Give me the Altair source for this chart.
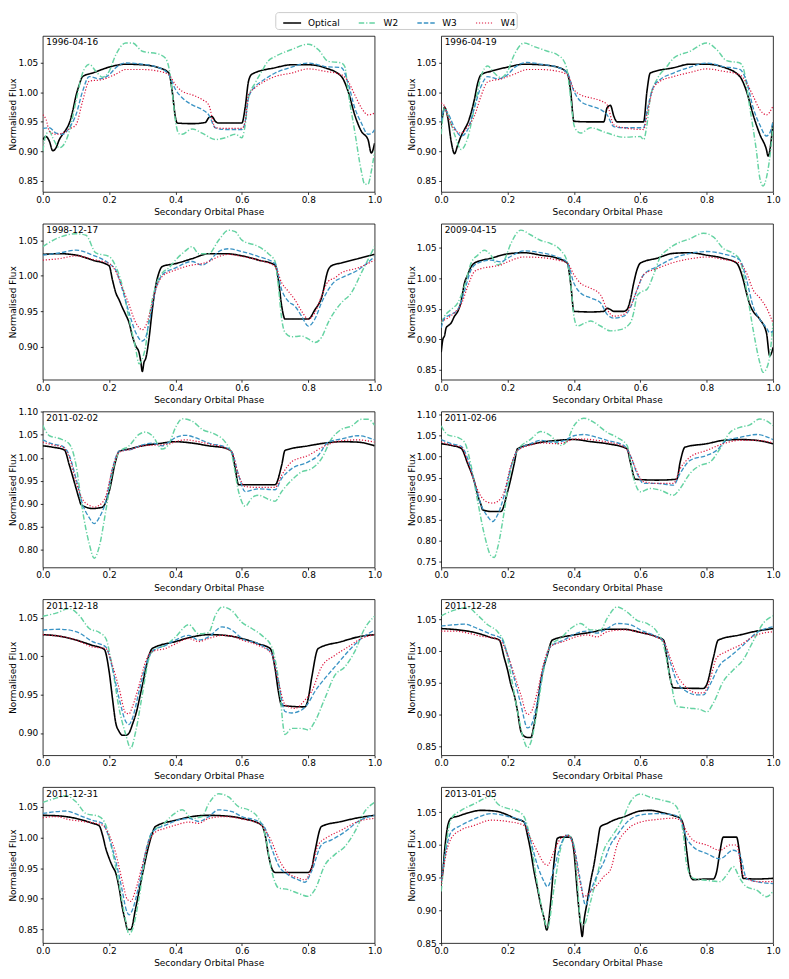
import altair as alt
import pandas as pd

FONT = "DejaVu Sans"
SERIES = ["Optical", "W2", "W3", "W4"]
COLORS = ["#000000", "#66d3a3", "#3a93c4", "#dc143c"]
DASHES = [[1, 0], [5.5, 2, 1.2, 2], [4.5, 2], [1.2, 1.8]]
WIDTHS = [1.6, 1.2, 1.2, 1.3]
X_TICKS = [0.0, 0.2, 0.4, 0.6, 0.8, 1.0]

DATES = ["1996-04-16", "1996-04-19", "1998-12-17", "2009-04-15", "2011-02-02",
         "2011-02-06", "2011-12-18", "2011-12-28", "2011-12-31", "2013-01-05"]

Y_DOMAINS = [[0.831, 1.096], [0.831, 1.096], [0.8535, 1.0732], [0.834, 1.0895],
             [0.760, 1.101], [0.735, 1.108], [0.871, 1.074], [0.836, 1.081],
             [0.828, 1.082], [0.850, 1.0886]]
Y_TICKS = [[0.85, 0.90, 0.95, 1.00, 1.05], [0.85, 0.90, 0.95, 1.00, 1.05],
           [0.90, 0.95, 1.00, 1.05], [0.85, 0.90, 0.95, 1.00, 1.05],
           [0.80, 0.85, 0.90, 0.95, 1.00, 1.05, 1.10],
           [0.75, 0.80, 0.85, 0.90, 0.95, 1.00, 1.05, 1.10],
           [0.90, 0.95, 1.00, 1.05], [0.85, 0.90, 0.95, 1.00, 1.05],
           [0.85, 0.90, 0.95, 1.00, 1.05], [0.85, 0.90, 0.95, 1.00, 1.05]]

# ---- 1996-04-16 ----
OPT_1 = [(0,0.920),(0.01,0.925),(0.02,0.917),(0.03,0.901),(0.04,0.906),(0.05,0.920),(0.06,0.929),(0.07,0.937),(0.08,0.948),(0.09,0.968),(0.10,0.994),(0.11,1.013),(0.12,1.027),(0.15,1.033),(0.20,1.043),(0.25,1.048),(0.30,1.047),(0.35,1.042),(0.38,1.033),(0.39,1.002),(0.40,0.957),(0.405,0.948),(0.45,0.947),(0.49,0.949),(0.50,0.957),(0.51,0.959),(0.52,0.951),(0.53,0.948),(0.60,0.948),(0.61,0.975),(0.62,1.019),(0.63,1.031),(0.70,1.042),(0.75,1.047),(0.80,1.047),(0.85,1.042),(0.90,1.027),(0.92,1.002),(0.94,0.962),(0.96,0.934),(0.98,0.920),(0.99,0.897),(1.0,0.914)]
W2_1 = [(0,0.900),(0.01,0.929),(0.02,0.934),(0.03,0.923),(0.05,0.906),(0.06,0.909),(0.08,0.934),(0.10,0.985),(0.12,1.033),(0.14,1.048),(0.16,1.036),(0.18,1.026),(0.20,1.036),(0.22,1.064),(0.25,1.084),(0.27,1.084),(0.30,1.070),(0.35,1.065),(0.37,1.058),(0.38,1.042),(0.39,1.002),(0.40,0.951),(0.41,0.930),(0.42,0.929),(0.45,0.938),(0.48,0.931),(0.52,0.920),(0.55,0.923),(0.58,0.929),(0.60,0.923),(0.61,0.945),(0.62,0.991),(0.64,1.016),(0.66,1.036),(0.68,1.054),(0.70,1.061),(0.75,1.073),(0.80,1.082),(0.83,1.073),(0.86,1.053),(0.90,1.050),(0.91,1.044),(0.92,1.002),(0.94,0.934),(0.96,0.866),(0.97,0.844),(0.98,0.844),(0.99,0.866),(1.0,0.900)]
W3_1 = [(0,0.939),(0.02,0.940),(0.04,0.931),(0.06,0.929),(0.08,0.940),(0.10,0.962),(0.12,1.002),(0.14,1.027),(0.17,1.023),(0.20,1.030),(0.22,1.042),(0.25,1.050),(0.30,1.048),(0.35,1.042),(0.38,1.030),(0.40,1.005),(0.42,0.991),(0.45,0.979),(0.48,0.971),(0.50,0.962),(0.52,0.940),(0.55,0.937),(0.60,0.937),(0.61,0.951),(0.62,0.991),(0.64,1.010),(0.66,1.019),(0.70,1.033),(0.75,1.043),(0.80,1.050),(0.85,1.044),(0.90,1.042),(0.92,1.016),(0.94,0.974),(0.96,0.948),(0.98,0.929),(0.99,0.930),(1.0,0.937)]
W4_1 = [(0,0.962),(0.01,0.954),(0.02,0.934),(0.04,0.929),(0.06,0.931),(0.08,0.938),(0.10,0.945),(0.12,0.985),(0.14,1.019),(0.18,1.022),(0.22,1.031),(0.25,1.039),(0.30,1.039),(0.35,1.036),(0.38,1.030),(0.40,1.013),(0.42,1.002),(0.45,0.996),(0.48,0.988),(0.50,0.979),(0.52,0.940),(0.55,0.939),(0.60,0.939),(0.61,0.951),(0.62,0.996),(0.64,1.008),(0.66,1.016),(0.70,1.027),(0.75,1.033),(0.80,1.040),(0.85,1.036),(0.90,1.030),(0.92,1.019),(0.94,0.996),(0.96,0.974),(0.98,0.962),(1.0,0.965)]

# ---- 1996-04-19 ----
OPT_2 = [(0,0.945),(0.005,0.962),(0.01,0.975),(0.02,0.957),(0.03,0.917),(0.04,0.896),(0.05,0.911),(0.06,0.926),(0.07,0.937),(0.08,0.948),(0.09,0.965),(0.10,0.988),(0.11,1.016),(0.12,1.030),(0.15,1.036),(0.20,1.043),(0.25,1.048),(0.30,1.047),(0.35,1.043),(0.38,1.033),(0.39,1.002),(0.40,0.951),(0.45,0.950),(0.49,0.950),(0.50,0.974),(0.51,0.978),(0.52,0.960),(0.53,0.950),(0.61,0.950),(0.62,1.002),(0.63,1.033),(0.70,1.042),(0.75,1.048),(0.80,1.048),(0.85,1.043),(0.90,1.027),(0.92,1.002),(0.94,0.962),(0.96,0.929),(0.98,0.903),(0.985,0.892),(1.0,0.949)]
W2_2 = [(0,0.929),(0.01,0.974),(0.02,0.962),(0.04,0.929),(0.06,0.903),(0.08,0.923),(0.10,0.974),(0.12,1.027),(0.14,1.045),(0.16,1.033),(0.18,1.025),(0.20,1.036),(0.22,1.064),(0.25,1.084),(0.28,1.078),(0.32,1.070),(0.35,1.064),(0.37,1.053),(0.38,1.036),(0.39,0.991),(0.40,0.945),(0.41,0.934),(0.42,0.931),(0.45,0.940),(0.50,0.931),(0.55,0.924),(0.60,0.925),(0.61,0.920),(0.62,0.945),(0.63,0.991),(0.65,1.022),(0.68,1.044),(0.70,1.058),(0.75,1.070),(0.80,1.084),(0.83,1.073),(0.86,1.054),(0.90,1.050),(0.91,1.042),(0.93,0.974),(0.95,0.900),(0.96,0.855),(0.97,0.841),(0.98,0.855),(0.99,0.889),(1.0,0.945)]
W3_2 = [(0,0.951),(0.01,0.971),(0.02,0.965),(0.04,0.940),(0.06,0.926),(0.08,0.937),(0.10,0.974),(0.12,1.010),(0.14,1.027),(0.17,1.023),(0.20,1.030),(0.22,1.042),(0.26,1.051),(0.30,1.048),(0.35,1.043),(0.38,1.033),(0.40,1.002),(0.42,0.985),(0.45,0.977),(0.48,0.971),(0.50,0.962),(0.52,0.942),(0.55,0.940),(0.61,0.940),(0.62,0.968),(0.64,1.010),(0.66,1.022),(0.70,1.033),(0.75,1.043),(0.80,1.050),(0.85,1.044),(0.90,1.039),(0.92,1.019),(0.94,0.974),(0.96,0.945),(0.98,0.926),(0.99,0.931),(1.0,0.951)]
W4_2 = [(0,0.982),(0.01,0.977),(0.02,0.960),(0.04,0.937),(0.06,0.931),(0.08,0.942),(0.10,0.960),(0.12,0.994),(0.14,1.018),(0.18,1.023),(0.22,1.031),(0.26,1.039),(0.30,1.039),(0.35,1.036),(0.38,1.030),(0.40,1.005),(0.42,0.996),(0.45,0.991),(0.48,0.986),(0.50,0.979),(0.52,0.945),(0.55,0.940),(0.61,0.937),(0.62,0.962),(0.64,1.008),(0.66,1.019),(0.70,1.027),(0.75,1.034),(0.80,1.040),(0.85,1.036),(0.90,1.030),(0.92,1.016),(0.94,0.994),(0.96,0.971),(0.98,0.962),(1.0,0.977)]

# ---- 1998-12-17 ----
OPT_3 = [(0,1.030),(0.05,1.031),(0.10,1.029),(0.15,1.022),(0.20,1.014),(0.21,0.994),(0.22,0.976),(0.23,0.966),(0.24,0.955),(0.25,0.945),(0.26,0.934),(0.27,0.915),(0.28,0.901),(0.29,0.892),(0.295,0.880),(0.30,0.865),(0.305,0.878),(0.31,0.883),(0.32,0.911),(0.33,0.952),(0.34,0.985),(0.35,1.004),(0.36,1.013),(0.40,1.017),(0.45,1.024),(0.50,1.031),(0.55,1.031),(0.60,1.028),(0.65,1.022),(0.70,1.015),(0.71,0.994),(0.72,0.957),(0.73,0.939),(0.80,0.939),(0.82,0.952),(0.84,0.969),(0.86,1.008),(0.87,1.014),(0.90,1.018),(0.95,1.024),(1.0,1.030)]
W2_3 = [(0,1.041),(0.05,1.054),(0.10,1.059),(0.13,1.057),(0.16,1.032),(0.20,1.027),(0.22,1.013),(0.24,0.985),(0.26,0.939),(0.28,0.897),(0.29,0.876),(0.30,0.883),(0.31,0.901),(0.32,0.939),(0.34,0.985),(0.36,1.004),(0.38,1.011),(0.40,1.022),(0.43,1.035),(0.45,1.041),(0.47,1.031),(0.50,1.031),(0.53,1.050),(0.56,1.064),(0.58,1.062),(0.60,1.050),(0.65,1.041),(0.68,1.031),(0.70,1.020),(0.71,0.985),(0.72,0.939),(0.73,0.920),(0.75,0.914),(0.78,0.915),(0.80,0.911),(0.82,0.906),(0.84,0.913),(0.86,0.934),(0.88,0.950),(0.90,0.962),(0.93,0.976),(0.96,1.004),(1.0,1.041)]
W3_3 = [(0,1.029),(0.05,1.032),(0.10,1.036),(0.15,1.029),(0.20,1.017),(0.22,1.008),(0.24,0.980),(0.26,0.948),(0.28,0.920),(0.30,0.908),(0.31,0.913),(0.32,0.934),(0.34,0.980),(0.36,1.001),(0.40,1.011),(0.45,1.020),(0.48,1.015),(0.50,1.020),(0.53,1.034),(0.56,1.038),(0.60,1.034),(0.65,1.027),(0.70,1.017),(0.72,0.980),(0.74,0.964),(0.76,0.957),(0.78,0.943),(0.80,0.929),(0.82,0.939),(0.84,0.962),(0.86,0.980),(0.88,0.992),(0.90,0.997),(0.95,1.008),(1.0,1.027)]
W4_3 = [(0,1.022),(0.05,1.024),(0.10,1.028),(0.15,1.023),(0.20,1.017),(0.22,1.006),(0.24,0.983),(0.26,0.959),(0.28,0.934),(0.30,0.924),(0.31,0.929),(0.32,0.943),(0.34,0.980),(0.36,0.999),(0.40,1.008),(0.45,1.015),(0.48,1.017),(0.50,1.020),(0.53,1.027),(0.56,1.030),(0.60,1.027),(0.65,1.022),(0.70,1.013),(0.72,0.990),(0.74,0.978),(0.76,0.966),(0.78,0.950),(0.80,0.939),(0.82,0.948),(0.84,0.971),(0.86,0.992),(0.88,0.997),(0.90,1.004),(0.95,1.011),(1.0,1.022)]

# ---- 2009-04-15 ----
OPT_4 = [(0,0.879),(0.005,0.900),(0.01,0.906),(0.015,0.919),(0.02,0.922),(0.03,0.927),(0.04,0.938),(0.05,0.946),(0.06,0.962),(0.07,0.992),(0.08,1.006),(0.09,1.019),(0.10,1.025),(0.15,1.033),(0.20,1.040),(0.25,1.042),(0.30,1.038),(0.35,1.033),(0.38,1.025),(0.39,0.992),(0.40,0.946),(0.45,0.945),(0.49,0.946),(0.50,0.951),(0.51,0.949),(0.52,0.946),(0.55,0.946),(0.56,0.949),(0.57,0.965),(0.58,0.992),(0.59,1.014),(0.60,1.025),(0.65,1.033),(0.70,1.041),(0.75,1.042),(0.80,1.038),(0.85,1.033),(0.89,1.025),(0.91,0.998),(0.92,0.976),(0.93,0.957),(0.94,0.946),(0.96,0.933),(0.98,0.911),(0.99,0.873),(1.0,0.887)]
W2_4 = [(0,0.927),(0.01,0.938),(0.03,0.949),(0.05,0.960),(0.07,0.987),(0.09,1.025),(0.11,1.038),(0.13,1.046),(0.15,1.038),(0.17,1.022),(0.19,1.030),(0.21,1.057),(0.24,1.079),(0.27,1.071),(0.30,1.062),(0.33,1.057),(0.36,1.046),(0.38,1.027),(0.39,0.992),(0.40,0.938),(0.41,0.922),(0.43,0.926),(0.45,0.930),(0.48,0.922),(0.51,0.914),(0.54,0.916),(0.57,0.927),(0.58,0.944),(0.59,0.971),(0.60,0.977),(0.62,0.982),(0.64,1.006),(0.66,1.035),(0.68,1.046),(0.70,1.054),(0.75,1.065),(0.79,1.074),(0.82,1.068),(0.85,1.049),(0.88,1.041),(0.90,1.030),(0.92,0.981),(0.94,0.916),(0.96,0.862),(0.97,0.846),(0.98,0.852),(0.99,0.873),(1.0,0.927)]
W3_4 = [(0,0.919),(0.01,0.935),(0.03,0.941),(0.05,0.949),(0.07,0.979),(0.09,1.014),(0.11,1.025),(0.15,1.030),(0.18,1.027),(0.20,1.033),(0.25,1.045),(0.30,1.042),(0.35,1.035),(0.38,1.026),(0.40,0.992),(0.42,0.976),(0.45,0.968),(0.48,0.960),(0.50,0.941),(0.52,0.935),(0.55,0.938),(0.57,0.952),(0.59,0.981),(0.61,1.006),(0.65,1.019),(0.70,1.033),(0.75,1.041),(0.80,1.044),(0.85,1.040),(0.90,1.030),(0.92,0.998),(0.94,0.954),(0.96,0.933),(0.98,0.919),(0.99,0.911),(1.0,0.914)]
W4_4 = [(0,0.930),(0.02,0.935),(0.04,0.944),(0.06,0.957),(0.08,0.987),(0.10,1.011),(0.12,1.016),(0.15,1.019),(0.18,1.022),(0.20,1.027),(0.25,1.035),(0.30,1.034),(0.35,1.030),(0.38,1.025),(0.40,1.006),(0.42,0.992),(0.45,0.984),(0.48,0.973),(0.50,0.949),(0.52,0.938),(0.55,0.941),(0.57,0.954),(0.59,0.981),(0.61,1.006),(0.65,1.016),(0.70,1.026),(0.75,1.032),(0.80,1.035),(0.85,1.031),(0.90,1.025),(0.92,1.009),(0.94,0.981),(0.96,0.968),(0.98,0.952),(1.0,0.927)]

# ---- 2011-02-02 ----
OPT_5 = [(0,1.026),(0.03,1.023),(0.065,1.017),(0.08,0.984),(0.10,0.934),(0.11,0.909),(0.115,0.898),(0.13,0.892),(0.15,0.889),(0.18,0.892),(0.20,0.926),(0.22,0.994),(0.23,1.014),(0.26,1.019),(0.30,1.026),(0.35,1.031),(0.40,1.035),(0.45,1.032),(0.50,1.026),(0.55,1.021),(0.57,1.012),(0.58,0.976),(0.59,0.941),(0.65,0.941),(0.70,0.941),(0.72,0.984),(0.73,1.016),(0.80,1.026),(0.85,1.032),(0.90,1.035),(0.95,1.034),(1.0,1.026)]
W2_5 = [(0,1.071),(0.02,1.048),(0.05,1.042),(0.08,1.030),(0.10,0.985),(0.12,0.884),(0.14,0.812),(0.155,0.780),(0.17,0.805),(0.19,0.884),(0.21,0.969),(0.23,1.012),(0.26,1.026),(0.29,1.051),(0.31,1.056),(0.33,1.048),(0.36,1.019),(0.38,1.030),(0.40,1.066),(0.42,1.085),(0.45,1.080),(0.48,1.062),(0.52,1.051),(0.55,1.034),(0.57,1.005),(0.59,0.926),(0.61,0.894),(0.63,0.912),(0.65,0.918),(0.68,0.909),(0.70,0.905),(0.72,0.926),(0.75,0.951),(0.78,0.969),(0.81,0.976),(0.84,0.998),(0.87,1.041),(0.90,1.062),(0.93,1.069),(0.96,1.084),(0.98,1.084),(1.0,1.071)]
W3_5 = [(0,1.039),(0.03,1.030),(0.06,1.025),(0.08,1.005),(0.10,0.955),(0.12,0.898),(0.14,0.869),(0.155,0.856),(0.17,0.869),(0.19,0.905),(0.21,0.976),(0.23,1.014),(0.27,1.019),(0.30,1.028),(0.33,1.032),(0.36,1.026),(0.38,1.034),(0.40,1.044),(0.43,1.049),(0.47,1.041),(0.50,1.032),(0.55,1.023),(0.57,1.012),(0.59,0.962),(0.61,0.926),(0.65,0.932),(0.70,0.930),(0.72,0.955),(0.75,0.976),(0.80,0.991),(0.83,1.005),(0.86,1.034),(0.90,1.041),(0.95,1.048),(1.0,1.039)]
W4_5 = [(0,1.034),(0.03,1.028),(0.06,1.023),(0.08,1.001),(0.10,0.948),(0.12,0.909),(0.14,0.896),(0.155,0.892),(0.17,0.896),(0.19,0.916),(0.21,0.976),(0.23,1.012),(0.27,1.019),(0.30,1.026),(0.35,1.028),(0.38,1.030),(0.40,1.035),(0.43,1.039),(0.47,1.035),(0.50,1.030),(0.55,1.021),(0.57,1.012),(0.59,0.962),(0.61,0.937),(0.65,0.935),(0.70,0.935),(0.72,0.962),(0.75,0.991),(0.80,1.005),(0.85,1.026),(0.90,1.037),(0.95,1.039),(1.0,1.034)]

# ---- 2011-02-06 ----
OPT_6 = [(0,1.031),(0.03,1.027),(0.06,1.020),(0.08,0.983),(0.10,0.940),(0.11,0.908),(0.12,0.885),(0.125,0.873),(0.15,0.869),(0.18,0.869),(0.20,0.916),(0.22,0.983),(0.23,1.019),(0.28,1.031),(0.35,1.039),(0.40,1.041),(0.45,1.036),(0.50,1.031),(0.56,1.019),(0.57,0.987),(0.585,0.946),(0.65,0.944),(0.71,0.946),(0.72,0.987),(0.735,1.023),(0.80,1.031),(0.85,1.039),(0.90,1.041),(0.95,1.039),(1.0,1.031)]
W2_6 = [(0,1.074),(0.02,1.052),(0.05,1.046),(0.07,1.035),(0.09,0.979),(0.11,0.893),(0.13,0.814),(0.15,0.763),(0.16,0.759),(0.17,0.782),(0.19,0.869),(0.21,0.972),(0.23,1.015),(0.27,1.042),(0.30,1.060),(0.33,1.050),(0.36,1.027),(0.38,1.039),(0.40,1.074),(0.43,1.092),(0.46,1.082),(0.50,1.058),(0.53,1.046),(0.56,1.027),(0.58,0.948),(0.60,0.916),(0.63,0.924),(0.66,0.920),(0.70,0.908),(0.72,0.924),(0.75,0.960),(0.78,0.979),(0.81,0.987),(0.84,1.019),(0.87,1.058),(0.90,1.070),(0.93,1.076),(0.96,1.090),(0.98,1.086),(1.0,1.074)]
W3_6 = [(0,1.041),(0.03,1.031),(0.06,1.025),(0.08,0.995),(0.10,0.940),(0.12,0.885),(0.14,0.857),(0.155,0.845),(0.17,0.861),(0.19,0.908),(0.21,0.975),(0.23,1.015),(0.27,1.031),(0.30,1.039),(0.33,1.035),(0.36,1.036),(0.38,1.042),(0.40,1.050),(0.43,1.053),(0.47,1.046),(0.50,1.039),(0.55,1.027),(0.57,1.003),(0.59,0.960),(0.61,0.936),(0.65,0.936),(0.70,0.932),(0.72,0.960),(0.75,0.991),(0.80,1.003),(0.83,1.015),(0.86,1.039),(0.90,1.046),(0.95,1.053),(1.0,1.041)]
W4_6 = [(0,1.035),(0.03,1.028),(0.06,1.023),(0.08,0.987),(0.10,0.940),(0.12,0.905),(0.14,0.891),(0.155,0.889),(0.17,0.893),(0.19,0.916),(0.21,0.979),(0.23,1.015),(0.27,1.028),(0.30,1.033),(0.35,1.031),(0.38,1.036),(0.40,1.042),(0.43,1.042),(0.47,1.039),(0.50,1.035),(0.55,1.024),(0.57,1.003),(0.59,0.964),(0.61,0.940),(0.65,0.936),(0.70,0.936),(0.72,0.971),(0.75,0.999),(0.80,1.015),(0.85,1.031),(0.90,1.039),(0.95,1.039),(1.0,1.033)]

# ---- 2011-12-18 ----
OPT_7 = [(0,1.028),(0.05,1.026),(0.10,1.021),(0.15,1.014),(0.185,1.009),(0.20,0.980),(0.21,0.945),(0.22,0.913),(0.23,0.902),(0.24,0.897),(0.25,0.897),(0.26,0.900),(0.27,0.911),(0.28,0.924),(0.30,0.962),(0.32,1.001),(0.33,1.010),(0.40,1.019),(0.45,1.025),(0.50,1.028),(0.55,1.027),(0.60,1.023),(0.65,1.016),(0.685,1.010),(0.70,0.984),(0.71,0.954),(0.72,0.936),(0.79,0.934),(0.80,0.945),(0.81,0.971),(0.83,1.010),(0.90,1.019),(0.95,1.025),(1.0,1.028)]
W2_7 = [(0,1.052),(0.04,1.056),(0.08,1.062),(0.11,1.053),(0.14,1.036),(0.17,1.031),(0.19,1.023),(0.21,0.984),(0.23,0.932),(0.25,0.898),(0.265,0.880),(0.28,0.902),(0.30,0.950),(0.32,0.997),(0.34,1.010),(0.37,1.014),(0.40,1.025),(0.44,1.041),(0.47,1.029),(0.50,1.031),(0.52,1.053),(0.54,1.064),(0.57,1.059),(0.60,1.044),(0.63,1.036),(0.66,1.027),(0.69,1.012),(0.71,0.971),(0.73,0.898),(0.75,0.906),(0.78,0.906),(0.80,0.904),(0.82,0.915),(0.85,0.945),(0.88,0.975),(0.91,0.986),(0.94,1.006),(0.97,1.036),(1.0,1.052)]
W3_7 = [(0,1.034),(0.05,1.035),(0.10,1.032),(0.15,1.019),(0.19,1.012),(0.21,0.984),(0.23,0.945),(0.25,0.915),(0.26,0.911),(0.27,0.919),(0.29,0.954),(0.31,0.988),(0.33,1.006),(0.37,1.014),(0.40,1.021),(0.44,1.027),(0.47,1.021),(0.50,1.025),(0.54,1.038),(0.57,1.034),(0.60,1.023),(0.65,1.016),(0.69,1.003),(0.71,0.967),(0.73,0.928),(0.75,0.926),(0.78,0.930),(0.80,0.939),(0.82,0.954),(0.85,0.971),(0.88,0.986),(0.92,1.006),(0.96,1.023),(1.0,1.034)]
W4_7 = [(0,1.028),(0.05,1.026),(0.10,1.021),(0.15,1.012),(0.19,1.010),(0.21,0.988),(0.23,0.958),(0.25,0.926),(0.26,0.925),(0.27,0.934),(0.29,0.962),(0.31,0.993),(0.33,1.006),(0.37,1.010),(0.40,1.016),(0.44,1.023),(0.47,1.019),(0.50,1.023),(0.54,1.027),(0.57,1.026),(0.60,1.021),(0.65,1.014),(0.69,1.003),(0.71,0.967),(0.73,0.937),(0.76,0.932),(0.79,0.943),(0.81,0.954),(0.84,0.986),(0.88,1.001),(0.92,1.012),(0.96,1.023),(1.0,1.028)]

# ---- 2011-12-28 ----
OPT_8 = [(0,1.035),(0.05,1.033),(0.10,1.029),(0.15,1.021),(0.175,1.017),(0.19,0.989),(0.20,0.970),(0.21,0.947),(0.22,0.931),(0.23,0.905),(0.24,0.874),(0.25,0.866),(0.26,0.864),(0.27,0.864),(0.28,0.884),(0.29,0.916),(0.30,0.952),(0.32,0.994),(0.335,1.017),(0.40,1.025),(0.45,1.029),(0.50,1.034),(0.55,1.034),(0.60,1.029),(0.65,1.022),(0.67,1.017),(0.68,0.989),(0.69,0.957),(0.70,0.942),(0.79,0.941),(0.80,0.947),(0.82,0.989),(0.835,1.017),(0.90,1.025),(0.95,1.031),(1.0,1.035)]
W2_8 = [(0,1.055),(0.04,1.064),(0.08,1.068),(0.11,1.056),(0.14,1.041),(0.17,1.030),(0.19,1.012),(0.21,0.962),(0.23,0.905),(0.25,0.858),(0.26,0.848),(0.27,0.856),(0.29,0.910),(0.31,0.973),(0.33,1.009),(0.36,1.020),(0.39,1.035),(0.42,1.043),(0.45,1.033),(0.48,1.033),(0.50,1.051),(0.53,1.069),(0.56,1.061),(0.59,1.048),(0.62,1.043),(0.65,1.030),(0.67,1.009),(0.69,0.957),(0.71,0.913),(0.75,0.910),(0.78,0.908),(0.80,0.904),(0.82,0.918),(0.85,0.952),(0.88,0.970),(0.91,0.986),(0.94,1.015),(0.97,1.043),(1.0,1.055)]
W3_8 = [(0,1.039),(0.04,1.041),(0.07,1.042),(0.11,1.035),(0.15,1.026),(0.18,1.020),(0.20,0.994),(0.22,0.957),(0.24,0.916),(0.26,0.879),(0.27,0.882),(0.29,0.921),(0.31,0.978),(0.33,1.007),(0.37,1.017),(0.40,1.026),(0.44,1.031),(0.47,1.028),(0.50,1.035),(0.53,1.043),(0.57,1.041),(0.60,1.033),(0.65,1.022),(0.67,1.015),(0.69,0.983),(0.71,0.952),(0.74,0.936),(0.77,0.931),(0.79,0.931),(0.81,0.947),(0.84,0.978),(0.87,0.991),(0.91,1.009),(0.95,1.028),(1.0,1.038)]
W4_8 = [(0,1.031),(0.04,1.031),(0.08,1.028),(0.12,1.023),(0.16,1.020),(0.18,1.015),(0.20,0.994),(0.22,0.963),(0.24,0.931),(0.26,0.900),(0.27,0.903),(0.29,0.936),(0.31,0.983),(0.33,1.007),(0.37,1.015),(0.40,1.021),(0.44,1.025),(0.47,1.022),(0.50,1.030),(0.55,1.033),(0.60,1.029),(0.65,1.021),(0.67,1.015),(0.69,0.989),(0.71,0.963),(0.74,0.942),(0.77,0.934),(0.79,0.934),(0.81,0.955),(0.83,0.989),(0.86,0.999),(0.90,1.009),(0.95,1.025),(1.0,1.030)]

# ---- 2011-12-31 ----
OPT_9 = [(0,1.036),(0.05,1.035),(0.10,1.031),(0.15,1.023),(0.17,1.019),(0.18,1.004),(0.19,0.982),(0.20,0.966),(0.21,0.953),(0.22,0.942),(0.23,0.918),(0.24,0.885),(0.25,0.861),(0.255,0.850),(0.265,0.850),(0.28,0.885),(0.30,0.939),(0.32,0.988),(0.34,1.018),(0.40,1.028),(0.45,1.034),(0.50,1.036),(0.55,1.035),(0.60,1.031),(0.66,1.020),(0.67,1.004),(0.68,0.972),(0.69,0.950),(0.70,0.943),(0.80,0.943),(0.81,0.950),(0.82,0.977),(0.84,1.018),(0.90,1.026),(0.95,1.032),(1.0,1.036)]
W2_9 = [(0,1.057),(0.04,1.064),(0.07,1.068),(0.10,1.058),(0.13,1.039),(0.17,1.034),(0.19,1.020),(0.21,0.977),(0.23,0.923),(0.25,0.864),(0.26,0.842),(0.27,0.850),(0.29,0.901),(0.31,0.972),(0.33,1.009),(0.36,1.020),(0.39,1.036),(0.42,1.045),(0.45,1.031),(0.48,1.034),(0.50,1.055),(0.53,1.071),(0.56,1.066),(0.59,1.050),(0.62,1.045),(0.65,1.031),(0.67,1.004),(0.69,0.945),(0.71,0.918),(0.74,0.915),(0.77,0.909),(0.80,0.904),(0.82,0.915),(0.85,0.955),(0.88,0.972),(0.91,0.985),(0.94,1.009),(0.97,1.042),(1.0,1.057)]
W3_9 = [(0,1.039),(0.04,1.042),(0.07,1.043),(0.11,1.036),(0.15,1.028),(0.18,1.023),(0.20,0.999),(0.22,0.961),(0.24,0.912),(0.25,0.885),(0.26,0.874),(0.27,0.882),(0.29,0.923),(0.31,0.977),(0.33,1.009),(0.37,1.020),(0.40,1.027),(0.44,1.031),(0.47,1.026),(0.50,1.034),(0.53,1.045),(0.57,1.042),(0.60,1.034),(0.65,1.026),(0.67,1.015),(0.69,0.982),(0.71,0.955),(0.74,0.939),(0.77,0.931),(0.79,0.927),(0.81,0.945),(0.84,0.988),(0.87,0.996),(0.91,1.009),(0.95,1.026),(1.0,1.036)]
W4_9 = [(0,1.032),(0.04,1.034),(0.08,1.029),(0.12,1.026),(0.16,1.023),(0.18,1.020),(0.20,1.004),(0.22,0.974),(0.24,0.928),(0.255,0.899),(0.265,0.896),(0.28,0.915),(0.30,0.955),(0.32,0.993),(0.34,1.009),(0.37,1.015),(0.40,1.020),(0.44,1.025),(0.47,1.023),(0.50,1.031),(0.55,1.034),(0.60,1.030),(0.65,1.023),(0.67,1.012),(0.69,0.993),(0.71,0.966),(0.74,0.942),(0.77,0.934),(0.79,0.931),(0.81,0.950),(0.83,0.988),(0.86,1.001),(0.90,1.012),(0.95,1.026),(1.0,1.031)]

# ---- 2013-01-05 ----
OPT_10 = [(0,0.946),(0.005,0.959),(0.01,0.990),(0.02,1.030),(0.03,1.041),(0.05,1.044),(0.08,1.049),(0.12,1.053),(0.16,1.052),(0.20,1.046),(0.22,1.041),(0.25,1.035),(0.26,1.015),(0.27,0.990),(0.28,0.959),(0.29,0.934),(0.30,0.908),(0.31,0.888),(0.318,0.870),(0.33,0.913),(0.34,0.974),(0.35,1.010),(0.36,1.012),(0.39,1.012),(0.40,0.990),(0.41,0.929),(0.42,0.878),(0.425,0.860),(0.43,0.883),(0.44,0.913),(0.45,0.944),(0.46,0.969),(0.47,1.000),(0.48,1.028),(0.50,1.033),(0.52,1.038),(0.55,1.043),(0.60,1.052),(0.63,1.053),(0.67,1.049),(0.70,1.045),(0.72,1.041),(0.73,1.030),(0.74,0.990),(0.75,0.954),(0.76,0.947),(0.80,0.948),(0.82,0.948),(0.83,0.959),(0.84,0.990),(0.85,1.012),(0.89,1.012),(0.90,0.985),(0.91,0.949),(0.95,0.948),(1.0,0.949)]
W2_10 = [(0,0.929),(0.01,0.979),(0.03,1.040),(0.06,1.053),(0.10,1.063),(0.13,1.071),(0.15,1.075),(0.17,1.063),(0.20,1.056),(0.23,1.052),(0.25,1.043),(0.27,1.005),(0.29,0.939),(0.31,0.888),(0.32,0.873),(0.34,0.934),(0.36,0.995),(0.38,1.016),(0.40,1.000),(0.41,0.944),(0.42,0.883),(0.43,0.878),(0.45,0.913),(0.47,0.954),(0.49,0.992),(0.51,1.010),(0.53,1.025),(0.55,1.043),(0.57,1.066),(0.60,1.078),(0.63,1.073),(0.67,1.068),(0.70,1.063),(0.72,1.045),(0.73,1.015),(0.74,0.969),(0.76,0.949),(0.80,0.946),(0.84,0.944),(0.86,0.954),(0.88,0.967),(0.90,0.949),(0.92,0.936),(0.95,0.931),(0.98,0.921),(1.0,0.929)]
W3_10 = [(0,0.944),(0.01,0.979),(0.03,1.020),(0.06,1.030),(0.10,1.040),(0.15,1.048),(0.20,1.044),(0.25,1.035),(0.27,1.005),(0.29,0.969),(0.31,0.944),(0.32,0.936),(0.34,0.964),(0.36,1.000),(0.38,1.015),(0.40,0.997),(0.42,0.944),(0.435,0.908),(0.45,0.929),(0.47,0.954),(0.49,0.974),(0.51,1.000),(0.53,1.015),(0.56,1.035),(0.60,1.046),(0.65,1.048),(0.70,1.046),(0.72,1.040),(0.74,1.010),(0.76,0.997),(0.80,0.987),(0.84,0.979),(0.88,0.992),(0.90,0.985),(0.92,0.949),(0.95,0.944),(1.0,0.941)]
W4_10 = [(0,0.939),(0.01,0.974),(0.03,1.010),(0.06,1.023),(0.10,1.030),(0.15,1.038),(0.20,1.036),(0.25,1.030),(0.27,1.010),(0.29,0.990),(0.31,0.972),(0.32,0.969),(0.34,0.990),(0.36,1.010),(0.38,1.015),(0.40,0.995),(0.42,0.939),(0.43,0.921),(0.45,0.929),(0.47,0.939),(0.49,0.952),(0.51,0.962),(0.53,1.000),(0.56,1.023),(0.60,1.035),(0.65,1.039),(0.70,1.041),(0.72,1.038),(0.74,1.020),(0.76,1.007),(0.80,1.000),(0.84,0.992),(0.87,1.000),(0.89,1.000),(0.91,0.954),(0.95,0.944),(1.0,0.944)]

PANELS = [(OPT_1, W2_1, W3_1, W4_1), (OPT_2, W2_2, W3_2, W4_2),
          (OPT_3, W2_3, W3_3, W4_3), (OPT_4, W2_4, W3_4, W4_4),
          (OPT_5, W2_5, W3_5, W4_5), (OPT_6, W2_6, W3_6, W4_6),
          (OPT_7, W2_7, W3_7, W4_7), (OPT_8, W2_8, W3_8, W4_8),
          (OPT_9, W2_9, W3_9, W4_9), (OPT_10, W2_10, W3_10, W4_10)]

legend = alt.Legend(
    title=None, orient="none", legendX=234, legendY=-24, direction="horizontal",
    columns=4, symbolType="stroke", symbolSize=324, symbolStrokeWidth=1.5,
    symbolOffset=6,
    labelFont=FONT, labelFontSize=9, labelColor="black", labelOffset=6,
    columnPadding=12, padding=1, strokeColor="#cccccc", fillColor="white",
    cornerRadius=3,
)
color_enc = alt.Color("series:N", scale=alt.Scale(domain=SERIES, range=COLORS), legend=legend)
dash_enc = alt.StrokeDash("series:N", scale=alt.Scale(domain=SERIES, range=DASHES), legend=legend)
width_enc = alt.StrokeWidth("series:N", scale=alt.Scale(domain=SERIES, range=WIDTHS), legend=None)


def make_panel(i):
    rows = []
    for name, pts in zip(SERIES, PANELS[i]):
        for p, f in pts:
            rows.append({"series": name, "phase": p, "flux": f})
    d = pd.DataFrame(rows)
    lines = alt.Chart(d).mark_line(clip=True, interpolate="monotone").encode(
        x=alt.X("phase:Q", scale=alt.Scale(domain=[0, 1], nice=False),
                axis=alt.Axis(values=X_TICKS, format=".1f", title="Secondary Orbital Phase")),
        y=alt.Y("flux:Q", scale=alt.Scale(domain=Y_DOMAINS[i], nice=False, zero=False),
                axis=alt.Axis(values=Y_TICKS[i], format=".2f", title="Normalised Flux")),
        color=color_enc, strokeDash=dash_enc, strokeWidth=width_enc,
    )
    label = alt.Chart(pd.DataFrame({"t": [DATES[i]]})).mark_text(
        align="left", baseline="middle", font=FONT, fontSize=9, color="black"
    ).encode(text="t:N", x=alt.value(3.5), y=alt.value(6.5))
    return alt.layer(lines, label).properties(width=334, height=157)


chart = alt.concat(
    *[make_panel(i) for i in range(len(DATES))],
    columns=2, spacing=alt.RowColnumber(row=32, column=67), bounds="flush",
).resolve_scale(
    x="independent", y="independent", color="shared", strokeDash="shared"
).properties(padding=0).configure_view(
    stroke="black", strokeWidth=0.8
).configure_axis(
    domain=False, grid=False, ticks=True, tickSize=2.5, tickColor="black", tickWidth=0.8,
    labelFont=FONT, labelFontSize=9, labelColor="black", labelFlush=False,
    titleFont=FONT, titleFontSize=9, titleFontWeight="normal", titleColor="black",
).configure_axisX(
    labelPadding=1, minExtent=13, maxExtent=13, titlePadding=3
).configure_axisY(
    labelPadding=2.5, minExtent=25, maxExtent=25, titlePadding=0
)

chart.save("out.html", embed_options={"renderer": "svg", "actions": False})
